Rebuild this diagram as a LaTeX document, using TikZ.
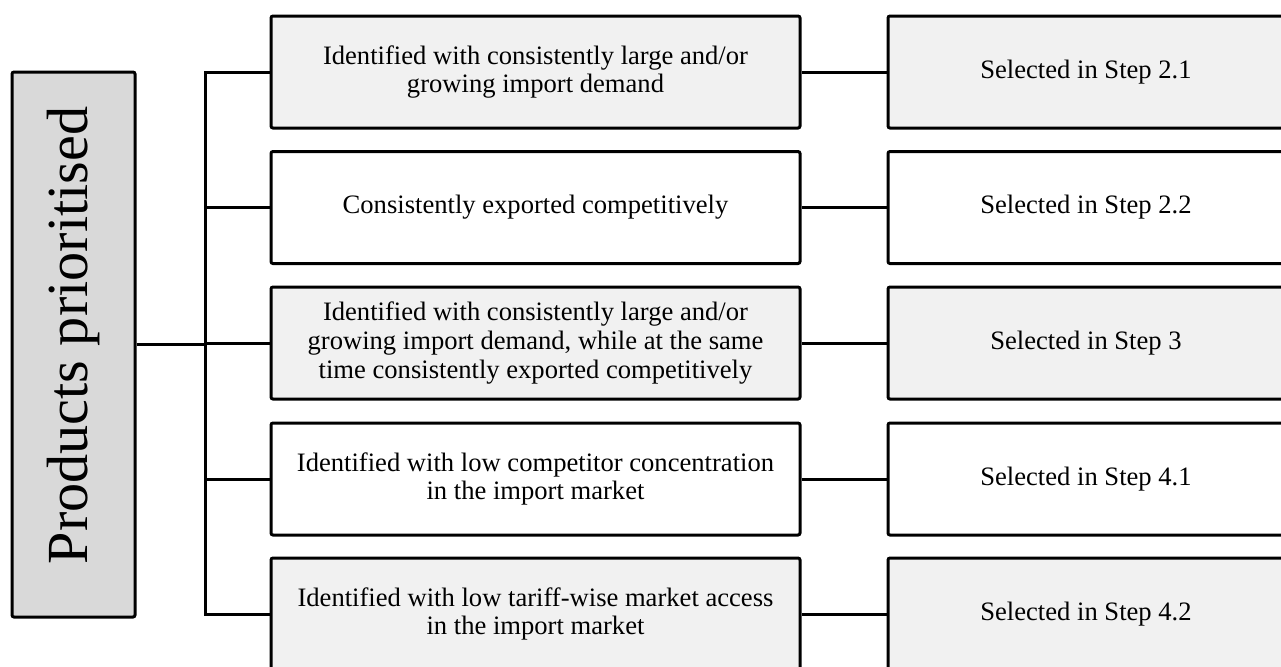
\documentclass[tikz,border=0pt]{standalone}
\usepackage{fontspec}
\setmainfont{Liberation Serif}
\definecolor{shadefill}{HTML}{F1F1F1}
\definecolor{headfill}{HTML}{D9D9D9}
\begin{document}
\begin{tikzpicture}[x=0.5pt,y=-0.5pt,
  box/.style={draw=black, line width=1.5pt, rounded corners=1pt, inner sep=0pt,
    font=\fontsize{13.3}{14.3}\selectfont, align=center},
  midbox/.style={box, minimum width=264.5pt, minimum height=56pt},
  sidebox/.style={box, minimum width=198pt, minimum height=56pt},
  shaded/.style={fill=shadefill},
  plain/.style={fill=white},
  conn/.style={draw=black, line width=1.5pt}]
\useasboundingbox (0,0) rectangle (1281,666);
\clip (0,0) rectangle (1281,666);

% heading box, text runs bottom to top, set slightly towards the top
\node[box, fill=headfill, rotate=90, minimum width=272.5pt, minimum height=61.5pt,
      font=\fontsize{29.1}{34}\selectfont] (head) at (73.5,344.5)
  {\hspace*{9pt}Products prioritised};

% criteria column
\node[midbox, shaded] (m1) at (535.5,72)
  {Identified with consistently large and/or\\growing import demand};
\node[midbox, plain] (m2) at (535.5,207.5)
  {Consistently exported competitively};
\node[midbox, shaded] (m3) at (535.5,343)
  {Identified with consistently large and/or\\growing import demand, while at the same\\time consistently exported competitively};
\node[midbox, plain] (m4) at (535.5,479)
  {Identified with low competitor concentration\\in the import market};
\node[midbox, shaded] (m5) at (535.5,614)
  {Identified with low tariff-wise market access\\in the import market};

% selection column
\node[sidebox, shaded] (r1) at (1086,72) {Selected in Step 2.1};
\node[sidebox, plain] (r2) at (1086,207.5) {Selected in Step 2.2};
\node[sidebox, shaded] (r3) at (1086,343) {Selected in Step 3};
\node[sidebox, plain] (r4) at (1086,479) {Selected in Step 4.1};
\node[sidebox, shaded] (r5) at (1086,614) {Selected in Step 4.2};

% bracket joining the heading to the criteria
\coordinate (bus) at (205,0);
\draw[conn] (m1.west) -| (bus |- m5.west) -- (m5.west);
\draw[conn] (m2.west) -- (bus |- m2.west);
\draw[conn] (m3.west) -- (bus |- m3.west);
\draw[conn] (m4.west) -- (bus |- m4.west);
\draw[conn] (head.south) -- (bus |- head.south);

% criteria to selection steps
\foreach \i in {1,...,5} \draw[conn] (m\i.east) -- (r\i.west);
\end{tikzpicture}
\end{document}
